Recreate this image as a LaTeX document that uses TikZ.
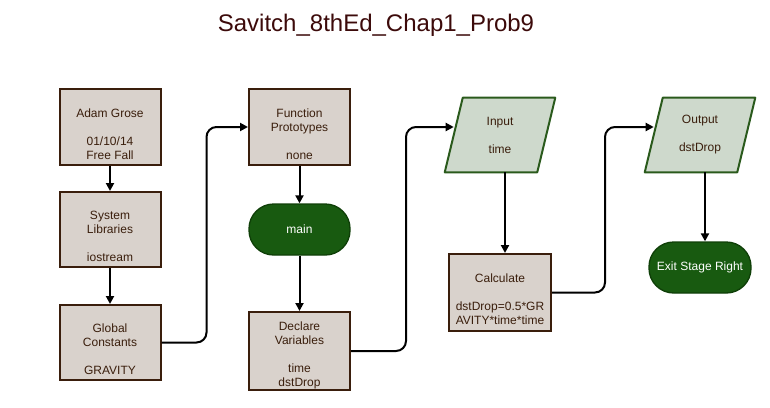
\documentclass[tikz,border=0pt]{standalone}
\usepackage{fontspec}
\setmainfont{Liberation Sans}
\usetikzlibrary{arrows.meta}
\definecolor{boxfill}{HTML}{D9D2CC}
\definecolor{boxline}{HTML}{3A1E0C}
\definecolor{iofill}{HTML}{CED9CC}
\definecolor{ioline}{HTML}{2A5A1C}
\definecolor{termfill}{HTML}{185A10}
\definecolor{termline}{HTML}{0F3F08}
\definecolor{titlecol}{HTML}{3C0A0A}

\begin{document}
\begin{tikzpicture}[x=0.75pt, y=-0.75pt,
		proc/.style={draw=boxline, fill=boxfill, line width=1.5pt, inner sep=0pt, minimum width=75.75pt, minimum height=57pt},
		term/.style={draw=termline, fill=termfill, line width=1pt, inner sep=0pt, rounded corners=18.5pt, minimum width=75.75pt, minimum height=38.25pt, text=white, font=\fontsize{9}{10.5}\selectfont},
		iobox/.style={inner sep=0pt, minimum width=69pt, minimum height=55.5pt},
		io/.style={draw=ioline, fill=iofill, line width=1.5pt, line join=round},
		txt/.style={align=center, text=boxline, font=\fontsize{9}{10.5}\selectfont},
		flow/.style={line width=1.5pt, -{Triangle[length=6pt,width=6pt]}}]
			%%%%% START %%%%%
			
			\useasboundingbox (0, 0) rectangle (770, 407);
			
			\node[text=titlecol, font=\fontsize{18}{21}\selectfont] (title) at (376, 25) {Savitch\_8thEd\_Chap1\_Prob9};
			
			% first column
			\node[proc] (adam) at (110, 127) {};
			\node[txt] (adam-txt) at (110, 134) {Adam Grose\\[10.5pt]01/10/14\\Free Fall};
			\node[proc, minimum height=56.25pt] (syslib) at (110, 229.5) {};
			\node[txt] (syslib-txt) at (110, 236.5) {System\\Libraries\\[10.5pt]iostream};
			\node[proc, minimum height=56.25pt] (global) at (110, 342.5) {};
			\node[txt] (global-txt) at (110, 349) {Global\\Constants\\[10.5pt]GRAVITY};
			
			% second column
			\node[proc] (func) at (299.5, 127) {};
			\node[txt] (func-txt) at (299.5, 134.5) {Function\\Prototypes\\[10.5pt]none};
			\node[term] (main) at (299.5, 229.5) {main};
			\node[proc, minimum height=58.5pt] (declare) at (299.5, 351) {};
			\node[txt] (declare-txt) at (299.5, 355.5) {Declare\\Variables\\[10.5pt]time\\dstDrop};
			
			% third column
			\node[iobox] (input) at (500, 135) {};
			\draw[io] ([xshift=-6.75pt]input.south west) -- ([xshift=-6.75pt]input.south east) -- ([xshift=6.75pt]input.north east) -- ([xshift=6.75pt]input.north west) -- cycle;
			\node[txt] (input-txt) at (500, 135) {Input\\[10.5pt]time};
			\node[proc, minimum width=76.5pt, minimum height=57.75pt] (calc) at (500, 292.5) {};
			\node[txt] (calc-txt) at (500, 299) {Calculate\\[10.5pt]dstDrop=0.5*GR\\AVITY*time*time};
			
			% fourth column
			\node[iobox] (output) at (700, 135) {};
			\draw[io] ([xshift=-6.75pt]output.south west) -- ([xshift=-6.75pt]output.south east) -- ([xshift=6.75pt]output.north east) -- ([xshift=6.75pt]output.north west) -- cycle;
			\node[txt] (output-txt) at (700, 135) {Output\\[10.5pt]dstDrop};
			\node[term, minimum width=76.5pt] (exit) at (700, 267.5) {Exit Stage Right};
			
			% connectors
			\draw[flow] (adam) -- (syslib);
			\draw[flow] (syslib) -- (global);
			\draw[flow, rounded corners=7.5pt] (global.east) -- ++(45, 0) |- (func.west);
			\draw[flow] (func) -- (main);
			\draw[flow] (main) -- (declare);
			\draw[flow, rounded corners=7.5pt] (declare.east) -- ++(55, 0) |- ([yshift=6pt]input.west);
			\draw[flow] ([xshift=3.75pt]input.south) -- ([xshift=3.75pt]calc.north);
			\draw[flow, rounded corners=7.5pt] (calc.east) -- ++(53, 0) |- ([yshift=6pt]output.west);
			\draw[flow] ([xshift=3.75pt]output.south) -- ([xshift=3.75pt]exit.north);
			
			%%%%% END %%%%%
\end{tikzpicture}
\end{document}
